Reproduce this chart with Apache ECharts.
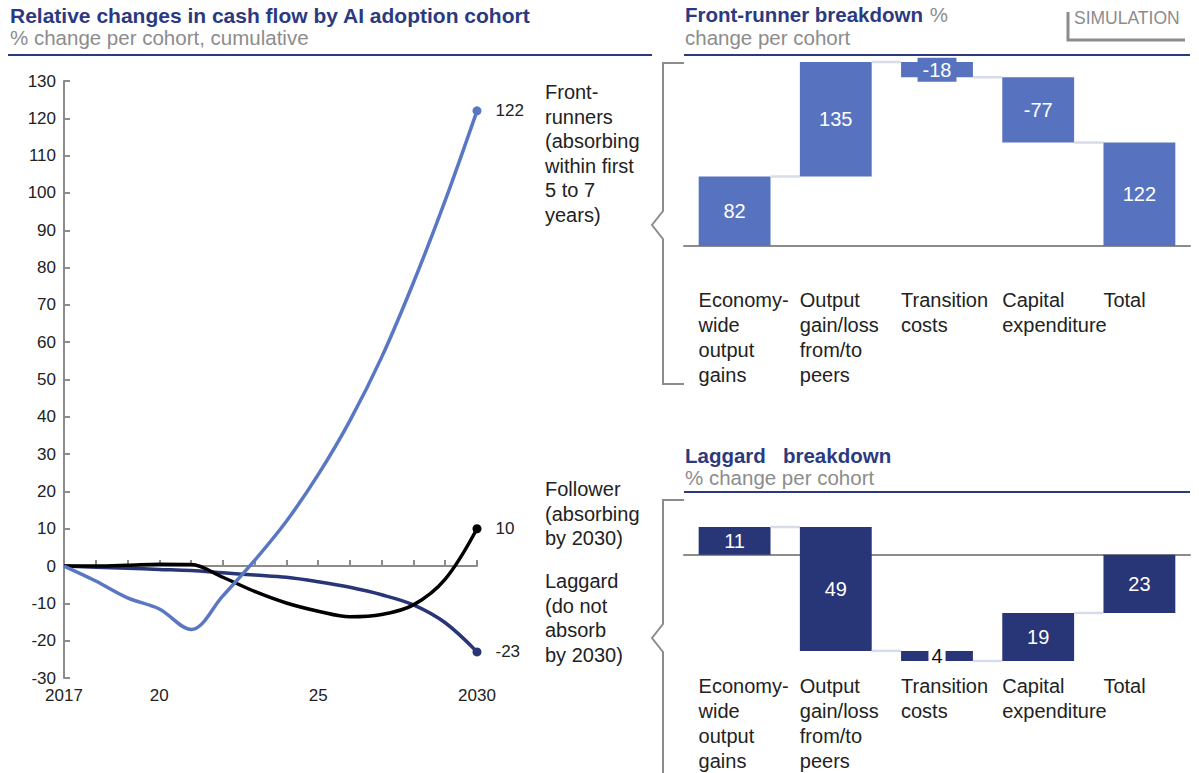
<!DOCTYPE html>
<html>
<head>
<meta charset="utf-8">
<title>Relative changes in cash flow by AI adoption cohort</title>
<script src="https://cdn.jsdelivr.net/npm/echarts@6/dist/echarts.min.js"></script>
<style>
html, body { margin: 0; padding: 0; background: #fff; }
#chart { width: 1199px; height: 773px; }
</style>
</head>
<body>
<div id="chart"></div>
<script>
// cumulative % change per cohort
var years = [2017, 2018, 2019, 2020, 2021, 2022, 2023, 2024, 2025, 2026, 2027, 2028, 2029, 2030];
var frontRunners = [0, -4, -8.5, -11.5, -17, -8, 1.5, 12, 24.5, 39, 56, 76, 98, 122];
var followers = [0, 0, 0.2, 0.5, 0.4, -3, -6.8, -9.9, -12.1, -13.6, -13, -10.4, -3.5, 10];
var laggards = [0, -0.3, -0.6, -0.9, -1.2, -1.8, -2.4, -3, -4.2, -5.7, -7.7, -10.4, -15.2, -23];
var yearTickValues = [2017, 2020, 2025, 2030];
var yearTickLabels = ['2017', '20', '25', '2030'];

// breakdowns (waterfalls)
var breakdownCategories = ['Economy-\nwide\noutput\ngains', 'Output\ngain/loss\nfrom/to\npeers', 'Transition\ncosts', 'Capital\nexpenditure', 'Total'];
var frontRunnerSteps = [82, 135, -18, -77];
var frontRunnerTotal = 122;
var laggardSteps = [11, -49, -4, 19];
var laggardTotal = -23;

var NAVY = '#2b3a80';
var LIGHT = '#5773bf';
var DARK = '#283577';
var GREY = '#8c8c8c';
var TEXT = '#222';
var FONT = '"Liberation Sans", Arial, sans-serif';

function pairs(xs, ys) {
    return xs.map(function (x, i) { return [x, ys[i]]; });
}

function waterfallRows(steps, total) {
    var rows = [];
    var level = 0;
    steps.forEach(function (d, i) {
        rows.push([i, level, level + d, d]);
        level += d;
    });
    rows.push([steps.length, 0, total, total]);
    return rows;
}

function waterfall(color, labelOf, smallLabel, count) {
    return function (params, api) {
        var idx = api.value(0), from = api.value(1), to = api.value(2), delta = api.value(3);
        var a = api.coord([idx, from]);
        var b = api.coord([idx, to]);
        var band = api.size([1, 0])[0];
        var w = band * 0.71;
        var top = Math.min(a[1], b[1]);
        var h = Math.abs(a[1] - b[1]);
        var children = [{
            type: 'rect',
            shape: { x: a[0] - w / 2, y: top, width: w, height: h },
            style: { fill: color }
        }];
        if (idx < count - 1) {
            children.push({
                type: 'line',
                shape: { x1: a[0] + w / 2, y1: b[1], x2: a[0] + band - w / 2, y2: b[1] },
                style: { stroke: '#d6dcea', lineWidth: 2.5 }
            });
        }
        var textStyle = {
            text: labelOf(delta), fill: '#fff', font: '20px ' + FONT,
            align: 'center', verticalAlign: 'middle'
        };
        if (h < 20) {
            textStyle.fill = smallLabel.fill;
            textStyle.backgroundColor = smallLabel.bg;
            textStyle.padding = smallLabel.padding;
        }
        children.push({ type: 'text', x: a[0], y: top + h / 2, style: textStyle, z2: 10 });
        return { type: 'group', children: children };
    };
}

function cohortLine(name, values, color) {
    var last = values.length - 1;
    return {
        name: name,
        type: 'line',
        xAxisIndex: 0,
        yAxisIndex: 0,
        data: pairs(years, values),
        smooth: 0.35,
        symbol: function (v, p) { return p.dataIndex === last ? 'circle' : 'none'; },
        symbolSize: 9,
        lineStyle: { color: color, width: 3.5 },
        itemStyle: { color: color },
        label: {
            show: true,
            position: 'right',
            distance: 14,
            color: TEXT,
            fontSize: 17,
            fontFamily: FONT,
            formatter: function (p) { return p.dataIndex === last ? String(p.value[1]) : ''; }
        },
        emphasis: { disabled: true },
        animation: false
    };
}

var chart = echarts.init(document.getElementById('chart'), null, { renderer: 'svg' });

var catLabel = {
    interval: 0,
    color: TEXT,
    fontSize: 20,
    fontFamily: FONT,
    lineHeight: 25,
    align: 'left',
    verticalAlign: 'top',
    padding: [0, 0, 0, -36]
};

chart.setOption({
    animation: false,
    grid: [
        { left: 64, top: 81, width: 413, height: 597 },
        { left: 684, right: 9, top: 62, height: 184 },
        { left: 684, right: 9, top: 527, height: 135 }
    ],
    xAxis: [
        {
            gridIndex: 0, type: 'value', min: 2017, max: 2030, interval: 1,
            axisLine: { onZero: true, lineStyle: { color: GREY, width: 2 } },
            axisTick: { inside: true, length: 6, lineStyle: { color: GREY, width: 2 } },
            axisLabel: { show: false },
            splitLine: { show: false }
        },
        {
            gridIndex: 0, type: 'value', min: 2017, max: 2030, interval: 1, position: 'bottom',
            axisLine: { show: false, onZero: false },
            axisTick: { show: false },
            splitLine: { show: false },
            axisLabel: {
                color: TEXT, fontSize: 17, fontFamily: FONT, margin: 9,
                formatter: function (v) {
                    var i = yearTickValues.indexOf(v);
                    return i < 0 ? '' : yearTickLabels[i];
                }
            }
        },
        {
            gridIndex: 1, type: 'category', data: breakdownCategories,
            axisLine: { lineStyle: { color: GREY, width: 2 } },
            axisTick: { show: false },
            axisLabel: Object.assign({ margin: 41 }, catLabel)
        },
        {
            gridIndex: 2, type: 'category', data: breakdownCategories,
            axisLine: { onZero: true, lineStyle: { color: GREY, width: 2 } },
            axisTick: { show: false },
            axisLabel: { show: false }
        },
        {
            gridIndex: 2, type: 'category', data: breakdownCategories, position: 'bottom',
            axisLine: { show: false, onZero: false },
            axisTick: { show: false },
            axisLabel: Object.assign({ margin: 12 }, catLabel)
        }
    ],
    yAxis: [
        {
            gridIndex: 0, type: 'value', min: -30, max: 130, interval: 10,
            axisLine: { show: true, lineStyle: { color: GREY, width: 2 } },
            axisTick: { show: true, inside: true, length: 6, lineStyle: { color: GREY, width: 2 } },
            axisLabel: { color: TEXT, fontSize: 17, fontFamily: FONT, margin: 8 },
            splitLine: { show: false }
        },
        { gridIndex: 1, type: 'value', min: 0, max: 217, show: false },
        { gridIndex: 2, type: 'value', min: -42, max: 11, show: false }
    ],
    series: [
        cohortLine('Laggard', laggards, DARK),
        cohortLine('Follower', followers, '#000'),
        cohortLine('Front-runners', frontRunners, '#5a77c3'),
        {
            type: 'custom',
            xAxisIndex: 2,
            yAxisIndex: 1,
            data: waterfallRows(frontRunnerSteps, frontRunnerTotal),
            encode: { x: 0, y: [1, 2] },
            renderItem: waterfall(LIGHT, function (d) { return String(d); },
                { fill: '#fff', bg: LIGHT, padding: [2, 5] }, frontRunnerSteps.length + 1),
            z: 3
        },
        {
            type: 'custom',
            xAxisIndex: 4,
            yAxisIndex: 2,
            data: waterfallRows(laggardSteps, laggardTotal),
            encode: { x: 0, y: [1, 2] },
            renderItem: waterfall(DARK, function (d) { return String(Math.abs(d)); },
                { fill: '#111', bg: '#fff', padding: [0, 3] }, laggardSteps.length + 1),
            z: 3
        }
    ],
    graphic: [
        { type: 'text', left: 10, top: 5, style: { text: 'Relative changes in cash flow by AI adoption cohort', font: 'bold 21px ' + FONT, fill: NAVY } },
        { type: 'text', left: 10, top: 27, style: { text: '% change per cohort, cumulative', font: '20.5px ' + FONT, fill: GREY } },
        { type: 'line', shape: { x1: 8, y1: 55, x2: 652, y2: 55 }, style: { stroke: NAVY, lineWidth: 2 } },

        {
            type: 'text', left: 685, top: 4,
            style: {
                text: '{b|Front-runner breakdown}  {g|%}',
                rich: {
                    b: { font: 'bold 20.5px ' + FONT, fill: NAVY },
                    g: { font: '20.5px ' + FONT, fill: GREY }
                }
            }
        },
        { type: 'text', left: 685, top: 27, style: { text: 'change per cohort', font: '20.5px ' + FONT, fill: GREY } },
        { type: 'line', shape: { x1: 684, y1: 55, x2: 1190, y2: 55 }, style: { stroke: NAVY, lineWidth: 2 } },

        { type: 'text', left: 1074, top: 9, style: { text: 'SIMULATION', font: '17.5px ' + FONT, fill: GREY } },
        { type: 'polyline', shape: { points: [[1068, 12], [1068, 40], [1185, 40]] }, style: { stroke: GREY, lineWidth: 3, fill: null } },

        { type: 'text', left: 685, top: 445, style: { text: 'Laggard   breakdown', font: 'bold 20.5px ' + FONT, fill: NAVY } },
        { type: 'text', left: 685, top: 467, style: { text: '% change per cohort', font: '20.5px ' + FONT, fill: GREY } },
        { type: 'line', shape: { x1: 684, y1: 492, x2: 1190, y2: 492 }, style: { stroke: NAVY, lineWidth: 2 } },

        { type: 'polyline', shape: { points: [[684, 63], [663, 63], [663, 211], [652, 225], [663, 239], [663, 384], [684, 384]] }, style: { stroke: GREY, lineWidth: 2, fill: null } },
        { type: 'polyline', shape: { points: [[684, 500], [663, 500], [663, 624], [652, 638], [663, 652], [663, 780]] }, style: { stroke: GREY, lineWidth: 2, fill: null } },

        { type: 'text', left: 545, top: 80, style: { text: 'Front-\nrunners\n(absorbing\nwithin first\n5 to 7\nyears)', font: '20px ' + FONT, lineHeight: 24.5, fill: TEXT } },
        { type: 'text', left: 545, top: 477, style: { text: 'Follower\n(absorbing\nby 2030)', font: '20px ' + FONT, lineHeight: 24.5, fill: TEXT } },
        { type: 'text', left: 545, top: 569, style: { text: 'Laggard\n(do not\nabsorb\nby 2030)', font: '20px ' + FONT, lineHeight: 24.5, fill: TEXT } }
    ]
});
</script>
</body>
</html>
